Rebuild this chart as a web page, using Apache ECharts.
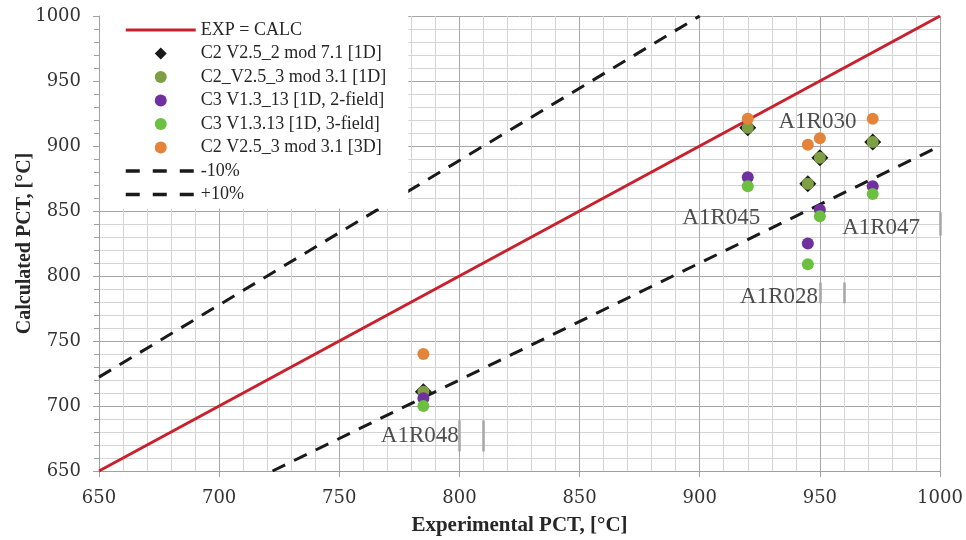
<!DOCTYPE html>
<html>
<head>
<meta charset="utf-8">
<script src="https://cdn.jsdelivr.net/npm/echarts@6/dist/echarts.min.js"></script>
<style>html,body{margin:0;padding:0;background:#fff}#c{width:966px;height:540px}</style>
</head>
<body>
<div id="c"></div>
<script>
// Experimental PCT (x) for each case
const expPCT = [785, 920, 945, 950, 972];
// Calculated PCT per code / model
const c2v252mod71_1D = [711, 914, 871, 891, 903];
const c2v253mod31_1D = [711, 914, 871, 891, 903];
const c3v1313_2field = [706, 876, 825, 851, 869];
const c3v1313_3field = [700, 869, 809, 846, 863];
const c2v253mod31_3D = [740, 921, 901, 906, 921];
// case labels (anchor in data coordinates)
const caseNames = ['A1R030', 'A1R045', 'A1R047', 'A1R028', 'A1R048'];
const caseLabelX = [949, 909, 975.5, 933, 783.5];
const caseLabelY = [918.5, 844.5, 837, 784, 677];
// partial text-box edges visible next to labels (data coordinates)
const boxEdgeX = [1000, 950, 960, 800, 810];
const boxEdgeY1 = [849, 795, 795, 689, 689];
const boxEdgeY2 = [831, 779, 779, 665, 665];
// reference lines
const axisMin = 650, axisMax = 1000;
const lineMinus10 = [[650, 650 / 0.9], [900, 1000]];
const linePlus10 = [[650 / 0.9, 650], [1000, 900]];

const seriesNames = ['EXP = CALC', 'C2 V2.5_2 mod 7.1 [1D]', 'C2_V2.5_3 mod 3.1 [1D]',
  'C3 V1.3_13 [1D, 2-field]', 'C3 V1.3.13 [1D, 3-field]', 'C2 V2.5_3 mod 3.1 [3D]', '-10%', '+10%'];

const pairs = arr => expPCT.map((x, i) => [x, arr[i]]);

const chart = echarts.init(document.getElementById('c'));
const tickFont = { fontFamily: 'DejaVu Serif', fontSize: 18, color: '#333', formatter: v => String(v) };
const axisCommon = {
  type: 'value', min: axisMin, max: axisMax, interval: 50,
  axisLine: { show: true, lineStyle: { color: '#a0a0a0', width: 1 } },
  splitLine: { show: true, lineStyle: { color: '#a6a6a6', width: 1 } },
  minorSplitLine: { show: true, lineStyle: { color: '#d4d4d4', width: 1 } },
  nameLocation: 'middle',
  nameMoveOverlap: false,
  nameTextStyle: { fontFamily: 'Liberation Serif', fontWeight: 'bold', fontSize: 20, color: '#262626' }
};
const transparent = 'rgba(0,0,0,0)';
const legendItem = (n, i) => {
  if (i === 1) return { name: n, icon: 'path://M0,-1L1,0L0,1L-1,0Z' };
  if (i === 0) return { name: n, lineStyle: { width: 3 } };
  if (i >= 6) return { name: n, lineStyle: { width: 3.5, type: [14, 13] } };
  return { name: n };
};
chart.setOption({
  animation: false,
  backgroundColor: '#fff',
  grid: { left: 99, right: 26, top: 16, bottom: 69, containLabel: false, outerBoundsMode: 'none' },
  xAxis: Object.assign({}, axisCommon, {
    name: 'Experimental PCT, [°C]', nameGap: 44,
    nameTextStyle: { fontFamily: 'Liberation Serif', fontWeight: 'bold', fontSize: 21, color: '#262626' },
    axisTick: { show: true, length: 6, lineStyle: { color: '#a0a0a0' } },
    minorTick: { show: false, splitNumber: 5 },
    axisLabel: Object.assign({ margin: 18 }, tickFont)
  }),
  yAxis: Object.assign({}, axisCommon, {
    name: 'Calculated PCT, [°C]', nameGap: 64,
    axisTick: { show: true, length: 6, lineStyle: { color: '#a0a0a0' } },
    minorTick: { show: true, splitNumber: 5, length: 5, lineStyle: { color: '#a0a0a0' } },
    axisLabel: Object.assign({ margin: 18 }, tickFont)
  }),
  legend: {
    data: seriesNames.map(legendItem),
    orient: 'vertical', left: 100, top: 16,
    backgroundColor: '#fff',
    padding: [5, 22, 5, 24],
    itemWidth: 70, itemHeight: 12, itemGap: 5.5,
    symbolKeepAspect: true,
    textStyle: { fontFamily: 'Liberation Serif', fontSize: 18, color: '#262626', lineHeight: 18 },
    z: 10
  },
  series: [
    { name: seriesNames[0], type: 'line', data: [[axisMin, axisMin], [axisMax, axisMax]], showSymbol: false, symbol: 'none',
      lineStyle: { color: '#c8202c', width: 3 }, itemStyle: { color: transparent, borderWidth: 0 }, z: 3 },
    { name: seriesNames[6], type: 'line', data: lineMinus10, symbol: 'none', showSymbol: false,
      lineStyle: { color: '#1a1a1a', width: 3, type: [14, 10] }, itemStyle: { color: transparent, borderWidth: 0 }, z: 3 },
    { name: seriesNames[7], type: 'line', data: linePlus10, symbol: 'none', showSymbol: false,
      lineStyle: { color: '#1a1a1a', width: 3, type: [14, 10] }, itemStyle: { color: transparent, borderWidth: 0 }, z: 3 },
    { name: seriesNames[1], type: 'scatter', data: pairs(c2v252mod71_1D), symbol: 'diamond', symbolSize: 17,
      itemStyle: { color: '#1a1a1a', opacity: 1 }, z: 4 },
    { name: seriesNames[2], type: 'scatter', data: pairs(c2v253mod31_1D), symbol: 'circle', symbolSize: 12,
      itemStyle: { color: '#7f9f45', opacity: 1 }, z: 4 },
    { name: seriesNames[3], type: 'scatter', data: pairs(c3v1313_2field), symbol: 'circle', symbolSize: 12,
      itemStyle: { color: '#7030a0', opacity: 1 }, z: 4 },
    { name: seriesNames[4], type: 'scatter', data: pairs(c3v1313_3field), symbol: 'circle', symbolSize: 12,
      itemStyle: { color: '#6cc040', opacity: 1 }, z: 4 },
    { name: seriesNames[5], type: 'scatter', data: pairs(c2v253mod31_3D), symbol: 'circle', symbolSize: 12,
      itemStyle: { color: '#e3843a', opacity: 1 }, z: 4 },
    { name: 'caseLabels', type: 'scatter', symbolSize: 0, silent: true, z: 5,
      data: caseNames.map((n, i) => ({ name: n, value: [caseLabelX[i], caseLabelY[i]] })),
      label: { show: true, position: 'inside', formatter: p => p.name,
        fontFamily: 'Liberation Serif', fontSize: 23, color: '#222' },
      markLine: { silent: true, symbol: 'none', label: { show: false },
        lineStyle: { color: '#a6a6a6', width: 2.5, type: 'solid' },
        data: boxEdgeX.map((x, i) => [{ coord: [x, boxEdgeY1[i]] }, { coord: [x, boxEdgeY2[i]] }]) } }
  ]
});
</script>
</body>
</html>
